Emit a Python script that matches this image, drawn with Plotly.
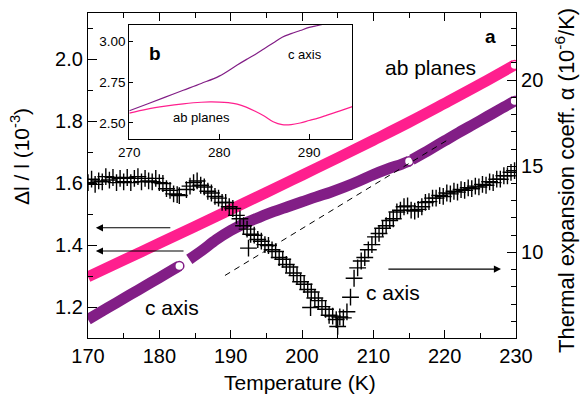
import plotly.graph_objects as go

# ---------------- data ----------------
# ab planes (left axis, Delta l / l in 1e-3)
ab_T = [170, 175, 180, 185, 190, 195, 200, 205, 210, 215, 220, 225, 229.8]
ab_v = [1.298, 1.352, 1.406, 1.460, 1.515, 1.570, 1.626, 1.682, 1.739, 1.797, 1.858, 1.920, 1.982]

# c axis (left axis), three measured segments
c1_T = [170, 172, 174, 176, 178, 180, 182, 182.8]
c1_v = [1.160, 1.187, 1.214, 1.241, 1.268, 1.295, 1.322, 1.333]
c2_T = [184.2, 186, 188, 190, 192, 194, 196, 198, 200, 202, 204, 206, 208, 210, 212, 214, 215.0]
c2_v = [1.354, 1.383, 1.418, 1.447, 1.471, 1.490, 1.508, 1.524, 1.540, 1.556, 1.571, 1.588, 1.607, 1.628, 1.646, 1.662, 1.671]
c3_T = [215.4, 218, 220, 222, 224, 226, 228, 229.8]
c3_v = [1.676, 1.710, 1.737, 1.764, 1.790, 1.816, 1.842, 1.866]

# dashed extrapolation (left axis)
dash_T = [189.2, 220.5]
dash_v = [1.302, 1.741]

# thermal expansion coefficient alpha, c axis (right axis, 1e-6/K)
alpha_T = [170.0, 170.5, 171.0, 171.5, 172.0, 172.5, 173.0, 173.5, 174.0, 174.5,
           175.0, 175.5, 176.0, 176.5, 177.0, 177.5, 178.0, 178.5, 179.0, 179.5,
           180.0, 180.5, 181.0, 181.5, 182.0, 182.5, 182.8,
           183.8, 184.3, 184.8, 185.3, 185.8, 186.3, 186.8, 187.3, 187.8, 188.3,
           188.8, 189.3, 189.8, 190.3, 190.8, 191.3, 191.8, 192.3, 192.5, 192.8,
           193.3, 193.8, 194.3, 194.8, 195.3, 195.8, 196.3, 196.8, 197.3, 197.8,
           198.3, 198.8, 199.3, 199.8, 200.3, 200.8, 201.2, 201.3, 201.8, 202.3,
           202.8, 203.3, 203.8, 204.3, 204.8, 205.0, 205.3, 205.8, 206.3, 206.8,
           207.3, 207.8, 208.3, 208.8, 209.3, 209.8, 210.3, 210.8, 211.3, 211.8,
           212.3, 212.8, 213.3, 213.8, 214.3, 214.8, 215.3, 215.8, 216.3, 216.8,
           217.3, 217.8, 218.3, 218.8, 219.3, 219.8, 220.3, 220.8, 221.3, 221.8,
           222.3, 222.8, 223.3, 223.8, 224.3, 224.8, 225.3, 225.8, 226.3, 226.8,
           227.3, 227.8, 228.3, 228.8, 229.3, 229.8]
alpha_v = [14.05, 14.25, 13.95, 14.15, 14.1, 14.4, 14.2, 14.35, 14.05, 14.3,
           14.1, 14.35, 14.05, 14.3, 14.4, 14.1, 14.3, 14.15, 14.1, 14.3,
           14.05, 14.0, 13.7, 13.6, 13.4, 13.35, 13.3,
           13.65, 13.85, 14.05, 14.15, 13.9, 13.8, 13.55, 13.45, 13.25, 13.15,
           12.9, 12.9, 12.65, 12.55, 12.15, 11.95, 11.55, 11.35, 10.25, 11.05,
           11.0, 10.75, 10.65, 10.45, 10.4, 10.15, 10.05, 9.7, 9.6, 9.3,
           9.15, 8.8, 8.65, 8.3, 8.15, 7.85, 6.8, 7.7, 7.35, 7.2,
           6.85, 6.7, 6.35, 6.3, 6.1, 5.7, 6.25, 6.2, 6.55, 7.4,
           8.5, 9.1, 9.5, 9.7, 10.15, 10.45, 10.9, 11.1, 11.4, 11.55,
           11.85, 11.95, 12.35, 12.45, 12.65, 12.7, 12.45, 12.4, 12.5, 12.65,
           12.9, 12.95, 13.15, 13.15, 13.3, 13.25, 13.45, 13.4, 13.55, 13.5,
           13.65, 13.6, 13.75, 13.7, 13.85, 13.8, 13.95, 13.9, 14.1, 14.05,
           14.25, 14.25, 14.45, 14.45, 14.65, 14.75]

# inset (b): thermal expansion coefficients 270-295 K
in_c_T = [270, 272, 274, 276, 278, 280, 282, 283, 284, 285, 286, 287, 288, 289, 290, 291, 291.5]
in_c_v = [2.575, 2.616, 2.658, 2.700, 2.742, 2.787, 2.855, 2.888, 2.920, 2.955, 2.990, 3.025, 3.047, 3.066, 3.085, 3.097, 3.104]
in_ab_T = [270, 272, 274, 276, 278, 279, 280, 281, 282, 283, 284, 285, 286, 287, 288, 289, 290, 291, 292, 293, 294, 294.8]
in_ab_v = [2.560, 2.585, 2.603, 2.617, 2.627, 2.629, 2.628, 2.624, 2.615, 2.597, 2.572, 2.543, 2.508, 2.490, 2.490, 2.500, 2.515, 2.530, 2.548, 2.566, 2.585, 2.600]

x_ticks = [170, 180, 190, 200, 210, 220, 230]

PINK = "#ff1f8e"
PURPLE = "#821e86"
FONT = "Liberation Sans, Arial, sans-serif"

# --------------- geometry ----------------
W, H = 581, 396
L, R, T, B = 88, 65, 13, 58
PW, PH = W - L - R, H - T - B


def pxx(x):
    return (x - L) / PW


def pxy(y):
    return (H - B - y) / PH


fig = go.Figure()

# c axis bands (thick lines) + open end circles
for tt, vv in [(c1_T, c1_v), (c2_T, c2_v), (c3_T, c3_v)]:
    fig.add_trace(go.Scatter(x=tt, y=vv, mode="lines", line=dict(color=PURPLE, width=11, shape="spline"),
                             hoverinfo="skip", showlegend=False))
    fig.add_trace(go.Scatter(x=tt[-1:], y=vv[-1:], mode="markers",
                             marker=dict(symbol="circle", size=9, color="white",
                                         line=dict(color=PURPLE, width=1.5)),
                             showlegend=False, cliponaxis=True))

fig.add_trace(go.Scatter(x=ab_T, y=ab_v, mode="lines", line=dict(color=PINK, width=11, shape="spline"),
                         showlegend=False))
fig.add_trace(go.Scatter(x=ab_T[-1:], y=ab_v[-1:], mode="markers",
                         marker=dict(symbol="circle", size=9, color="white", line=dict(color=PINK, width=1.5)),
                         showlegend=False, cliponaxis=True))

fig.add_trace(go.Scatter(x=dash_T, y=dash_v, mode="lines",
                         line=dict(color="black", width=1, dash="6px,5px"), showlegend=False))

fig.add_trace(go.Scatter(x=alpha_T, y=alpha_v, yaxis="y2", mode="markers",
                         marker=dict(symbol="cross-thin", size=12, color="black",
                                     line=dict(color="black", width=1.4)),
                         showlegend=False))

# inset traces
fig.add_trace(go.Scatter(x=in_c_T, y=in_c_v, xaxis="x3", yaxis="y3", mode="lines",
                         line=dict(color=PURPLE, width=1.2, shape="spline"), showlegend=False))
fig.add_trace(go.Scatter(x=in_ab_T, y=in_ab_v, xaxis="x3", yaxis="y3", mode="lines",
                         line=dict(color=PINK, width=1.2, shape="spline"), showlegend=False))

axis_common = dict(showline=True, linecolor="black", linewidth=1.2, showgrid=False, zeroline=False,
                   ticks="inside", tickcolor="black", tickwidth=1.2,
                   tickfont=dict(family=FONT, size=20, color="black"))

fig.update_layout(
    width=W, height=H,
    margin=dict(l=L, r=R, t=T, b=B),
    paper_bgcolor="white", plot_bgcolor="white",
    font=dict(family=FONT, color="black"),
    xaxis=dict(range=[170, 230], tickvals=x_ticks, ticklen=8, mirror="ticks",
               minor=dict(dtick=5, ticklen=5, ticks="inside", tickcolor="black", tickwidth=1.2),
               **axis_common),
    yaxis=dict(range=[1.10, 2.15], dtick=0.2, tick0=1.2, ticklen=9, tickformat=".1f",
               minor=dict(dtick=0.1, ticklen=5, ticks="inside", tickcolor="black", tickwidth=1.2),
               **axis_common),
    yaxis2=dict(range=[5.03, 23.9], overlaying="y", side="right", dtick=5, tick0=10, ticklen=9,
                minor=dict(dtick=1, ticklen=5, ticks="inside", tickcolor="black", tickwidth=1.2),
                **axis_common),
    xaxis3=dict(domain=[pxx(129.3), pxx(352.3)], anchor="y3", range=[270, 294.8], dtick=10,
                showline=True, linecolor="black", linewidth=1, mirror=True, showgrid=False, zeroline=False,
                ticks="inside", ticklen=5, tickcolor="black",
                tickfont=dict(family=FONT, size=13.5, color="black")),
    yaxis3=dict(domain=[pxy(139.3), pxy(25)], anchor="x3", range=[2.40, 3.10], dtick=0.25, tick0=2.5,
                tickformat=".2f",
                showline=True, linecolor="black", linewidth=1, mirror=True, showgrid=False, zeroline=False,
                ticks="inside", ticklen=4, tickcolor="black",
                tickfont=dict(family=FONT, size=13.5, color="black")),
)

ann = []


def txt(x, y, s, size, bold=False, angle=0):
    ann.append(dict(x=pxx(x), y=pxy(y), xref="paper", yref="paper", text=("<b>%s</b>" % s) if bold else s,
                    showarrow=False, font=dict(family=FONT, size=size, color="black"),
                    xanchor="center", yanchor="middle", textangle=angle))


NB = "\u00a0"
txt(430.5, 67, "ab planes", 21)
txt(172.3, 307, "c axis", 21)
txt(393, 292, "c axis", 21)
txt(490, 36, "a", 19, bold=True)
txt(155, 53, "b", 19, bold=True)
txt(201.5, 118, "ab planes", 13)
txt(305, 54, "c axis", 13)
txt(300, 382, "Temperature (K)", 21)
txt(20, 157, "Δl" + NB + "/" + NB + "l" + NB + "(10<sup>-3</sup>)", 21, angle=-90)
txt(565, 181, "Thermal expansion coeff. α (10<sup>-6</sup>/K)", 22, angle=-90)

# arrows (tail -> head)
for (x0, y0, x1, y1, yr) in [(181.75, 1.456, 171.1, 1.456, "y"),
                             (183.6, 1.381, 171.1, 1.381, "y"),
                             (211.9, 9.03, 227.9, 9.03, "y2")]:
    ann.append(dict(x=x1, y=y1, ax=x0, ay=y0, xref="x", yref=yr, axref="x", ayref=yr,
                    showarrow=True, arrowhead=2, arrowsize=1.3, arrowwidth=1.1, arrowcolor="black", text=""))

fig.update_layout(annotations=ann)
fig.write_html("out.html", config={"displayModeBar": False},
               post_script="document.body.style.margin='0';document.body.style.overflow='hidden';")
